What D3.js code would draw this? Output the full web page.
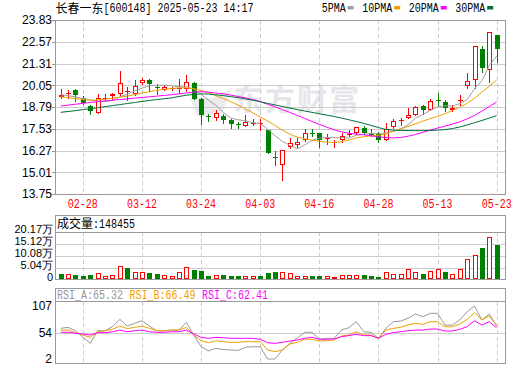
<!DOCTYPE html>
<html><head><meta charset="utf-8">
<script src="https://cdn.jsdelivr.net/npm/d3@7"></script>
<style>body{margin:0;background:#fff}svg{display:block}</style>
</head><body><svg id="c" width="520" height="365"></svg>
<script>
// ---------------- data ----------------
const stockName = "长春一东", stockCode = "600148", stamp = "2025-05-23 14:17";
const dates = ["02-25","02-26","02-27","02-28","03-03","03-04","03-05","03-06","03-07","03-10","03-11","03-12","03-13","03-14","03-17","03-18","03-19","03-20","03-21","03-24","03-25","03-26","03-27","03-28","03-31","04-01","04-02","04-03","04-07","04-08","04-09","04-10","04-11","04-14","04-15","04-16","04-17","04-18","04-21","04-22","04-23","04-24","04-25","04-28","04-29","04-30","05-06","05-07","05-08","05-09","05-12","05-13","05-14","05-15","05-16","05-19","05-20","05-21","05-22","05-23"];
const open  = [19.35,19.60,19.76,19.34,18.82,18.47,19.26,19.43,19.57,19.70,19.57,20.17,20.34,19.94,19.80,19.84,19.84,19.86,20.17,19.24,18.25,18.18,18.28,18.03,17.79,17.70,17.82,17.82,17.45,15.92,15.45,16.49,16.60,16.89,17.30,17.26,16.96,16.70,16.87,17.19,17.28,17.58,17.24,17.20,16.85,17.62,18.00,18.18,18.30,18.82,18.64,19.18,19.07,18.64,19.16,20.03,20.38,22.15,20.96,22.96];
const high  = [19.81,19.76,19.82,19.43,18.89,19.53,19.53,19.63,20.88,19.92,20.34,20.49,20.40,20.11,20.05,19.97,20.44,20.63,20.26,19.34,18.41,18.60,18.37,18.12,17.93,18.32,18.08,18.08,17.47,16.22,16.29,17.02,17.02,17.51,17.51,17.26,17.22,16.87,17.26,17.47,17.64,17.68,17.53,17.33,17.87,18.10,18.14,18.72,18.84,18.88,19.26,19.61,19.22,18.91,19.49,20.76,22.30,22.34,23.11,22.96];
const low   = [19.29,19.34,19.14,18.95,18.37,18.47,19.14,19.24,19.43,19.18,19.49,20.11,19.72,19.53,19.76,19.76,19.63,19.72,19.24,17.83,17.99,18.05,17.85,17.60,17.55,17.70,17.76,17.47,16.10,15.43,14.58,16.41,16.45,16.83,17.12,16.45,16.64,16.45,16.74,17.12,17.22,17.20,17.10,16.79,16.85,17.56,17.76,18.18,18.30,18.39,18.59,18.91,18.53,18.53,18.91,19.90,19.90,20.84,20.26,21.38];
const close = [19.48,19.63,19.49,19.01,18.57,19.34,19.30,19.57,20.20,19.74,20.01,20.34,20.11,19.90,19.92,19.88,19.88,20.26,19.24,18.32,18.22,18.43,18.05,17.80,17.76,17.93,17.86,17.86,16.12,15.90,16.29,16.68,16.79,17.26,17.27,16.89,16.99,16.77,17.12,17.22,17.64,17.29,17.20,16.89,17.53,17.97,18.06,18.34,18.78,18.64,19.12,19.14,18.72,18.72,19.22,20.28,22.30,21.03,23.11,22.15];
// volume in 万股 (10k shares)
const volume = [2.35,2.2,1.9,1.6,1.9,2.6,1.5,1.9,5.8,5.0,3.3,3.1,2.8,2.45,1.9,1.5,3.3,5.2,4.05,3.6,1.6,1.9,1.9,1.6,1.6,1.5,1.5,1.5,2.6,3.1,3.1,2.6,1.5,1.5,1.5,1.5,1.5,1.05,1.9,1.9,1.9,1.9,1.5,1.05,3.1,2.2,2.2,4.35,3.1,2.35,3.6,4.35,3.1,2.2,4.35,8.75,10.3,13.6,18.0,14.8455];
const volumeUp = [0,1,0,0,0,1,1,1,1,0,1,1,0,0,1,1,1,1,0,0,0,1,0,0,0,1,1,0,0,0,1,1,1,1,0,0,1,1,1,1,1,0,0,0,1,1,1,1,1,0,1,1,0,1,1,1,1,0,1,0];
const lastVolume = 148455;
const ma5  = [19.50,19.45,19.38,19.28,19.20,19.12,19.10,19.16,19.38,19.52,19.72,19.88,20.02,20.05,20.05,20.02,19.96,19.95,19.84,19.52,19.18,18.89,18.47,18.16,18.05,17.99,17.88,17.84,17.50,17.13,16.80,16.57,16.36,16.58,16.86,16.98,17.02,17.02,17.01,17.00,17.15,17.21,17.27,17.25,17.29,17.38,17.53,17.76,18.14,18.36,18.59,18.80,18.86,18.85,18.98,19.22,19.85,20.31,21.19,21.74];
const ma10 = [19.38,19.33,19.28,19.22,19.19,19.20,19.24,19.30,19.36,19.42,19.50,19.60,19.68,19.76,19.82,19.86,19.90,19.90,19.85,19.75,19.62,19.45,19.28,19.10,18.90,18.68,18.45,18.22,17.98,17.72,17.45,17.22,17.05,16.95,16.87,16.80,16.75,16.73,16.78,16.88,17.00,17.07,17.12,17.15,17.22,17.38,17.52,17.66,17.82,17.97,18.12,18.25,18.40,18.58,18.78,19.00,19.30,19.65,20.00,20.35];
const ma20 = [18.85,18.90,18.95,19.00,19.05,19.10,19.14,19.18,19.22,19.26,19.30,19.34,19.38,19.42,19.46,19.50,19.55,19.60,19.65,19.68,19.65,19.60,19.55,19.48,19.40,19.32,19.22,19.10,18.95,18.80,18.64,18.48,18.30,18.13,17.95,17.78,17.62,17.47,17.35,17.27,17.22,17.18,17.12,17.06,17.02,17.00,17.02,17.10,17.20,17.32,17.45,17.57,17.68,17.80,17.93,18.10,18.30,18.55,18.82,19.08];
const ma30 = [18.48,18.53,18.58,18.64,18.69,18.75,18.81,18.87,18.93,18.99,19.05,19.11,19.17,19.22,19.27,19.32,19.40,19.47,19.52,19.55,19.54,19.50,19.45,19.39,19.33,19.26,19.18,19.09,19.00,18.91,18.82,18.73,18.64,18.56,18.48,18.40,18.32,18.24,18.15,18.05,17.95,17.84,17.72,17.60,17.49,17.45,17.43,17.42,17.42,17.42,17.43,17.45,17.48,17.54,17.63,17.75,17.88,18.01,18.15,18.29];
const rsiA = [61.6,63.3,57.5,46.3,36.1,57.5,57.5,64.4,77.0,65.5,70.1,74.6,65.5,57.5,57.5,58.6,58.6,71.8,50.2,30.3,23.0,27.5,25.5,24.7,24.0,29.3,30.3,30.3,9.3,9.3,24.7,36.1,44.6,54.8,54.8,42.9,44.6,44.6,58.7,62.7,72.9,55.8,54.8,44.6,61.6,72.9,74.0,78.7,86.0,81.4,87.2,87.2,67.2,67.2,75.8,89.9,99.6,75.8,86.0,65.32];
const rsiB = [58.7,58.7,54.2,50.2,46.3,55.8,57.5,59.9,65.5,61.0,63.3,65.5,61.6,57.5,57.5,58.6,58.6,63.3,50.2,40.5,37.1,40.5,38.8,37.7,37.7,38.8,38.8,38.8,24.7,21.8,24.7,34.9,37.7,42.9,42.9,40.0,40.5,41.7,48.5,50.2,55.8,50.2,50.2,44.6,58.7,61.6,63.3,67.2,70.1,68.4,72.9,72.9,64.4,64.4,68.9,77.0,88.2,75.8,82.6,66.49];
const rsiC = [54.8,54.8,53.1,52.0,50.2,54.2,54.2,55.8,58.6,55.8,57.5,58.6,55.8,54.8,54.8,55.8,55.8,58.6,52.0,46.3,44.6,46.3,45.7,44.6,44.6,44.6,44.6,42.9,37.1,36.0,37.7,40.0,41.7,44.6,46.3,42.9,42.9,43.5,47.4,49.1,51.4,49.1,49.1,44.6,51.4,54.2,55.8,57.5,58.6,58.6,60.4,60.4,57.0,57.0,59.9,64.4,74.6,67.2,72.9,62.41];
const priceTicks = [23.83,22.57,21.31,20.05,18.79,17.53,16.27,15.01,13.75];
const volumeTicks = [20.17,15.12,10.08,5.04,0];
const rsiTicks = [107,54,2];
const dateTicks = ["02-28","03-12","03-24","04-03","04-16","04-28","05-13","05-23"];
const maNames = ["5PMA","10PMA","20PMA","30PMA"];
const rsiNames = ["RSI_A","RSI_B","RSI_C"];

// ---------------- style ----------------
const RED = "#ff0000", GREEN = "#008000", FRAME = "#999999", GRID = "#cccccc";
const MA_COLORS = ["#a0a0a0", "#f0a000", "#ff00ff", "#00703c"];
const RSI_COLORS = ["#999999", "#f0a000", "#ff00ff"];
const MONO = '"Liberation Mono", "DejaVu Sans Mono", monospace';
const SANS = '"Liberation Sans", Arial, sans-serif';
const CJK = '"Noto Sans CJK SC", sans-serif';
const L = 55, R = 505;

const svg = d3.select("#c");
const x = d3.scalePoint().domain(dates).range([60.7, 496.7]);
const yP = d3.scaleLinear().domain([13.75, 23.83]).range([194, 20]);
const yV = d3.scaleLinear().domain([0, 20.17]).range([279.5, 232.3]);
const yR = d3.scaleLinear().domain([2, 107]).range([363.3, 301.7]);
const px = v => Math.round(v) + 0.5;

function mono(g, xx, yy, s, fill, anchor) {
  return g.append("text").attr("x", xx).attr("y", yy).attr("fill", fill)
    .attr("font-family", MONO).attr("font-size", 12)
    .attr("text-anchor", anchor || "start")
    .attr("textLength", s.length * 6).attr("lengthAdjust", "spacingAndGlyphs").text(s);
}
function cjk(g, xx, yy, s, fill) {
  return g.append("text").attr("x", xx).attr("y", yy).attr("fill", fill)
    .attr("font-family", CJK).attr("font-size", 12).text(s);
}

// ---------------- header ----------------
const head = svg.append("g");
cjk(head, 55.5, 13, stockName, "#000");
mono(head, 55.5 + stockName.length * 12, 12, `[${stockCode}] ${stamp}`, "#000");
let lx = 321.7;
maNames.forEach((n, k) => {
  mono(head, lx, 12, n, "#000");
  const w = n.length * 6;
  head.append("rect").attr("x", lx + w + 2).attr("y", 6).attr("width", 6).attr("height", 3.5).attr("fill", MA_COLORS[k]);
  lx += w + 8 + 8.5;
});

// ---------------- watermark ----------------
const wm = svg.append("g").attr("fill", "#e6e6ea");
wm.append("path").attr("d", "M190,98 L212,98 L232,88 L222,113 L198,117 Z").attr("opacity", 0.8);
wm.append("text").attr("x", 233).attr("y", 110).attr("font-family", CJK).attr("font-weight", "bold")
  .attr("font-size", 30).attr("letter-spacing", 2).text("东方财富");

// ---------------- grid & frames ----------------
const grid = svg.append("g").attr("shape-rendering", "crispEdges");
priceTicks.slice(1, -1).forEach(p => grid.append("line").attr("x1", L).attr("x2", R).attr("y1", px(yP(p))).attr("y2", px(yP(p))).attr("stroke", GRID));
volumeTicks.slice(1, -1).forEach(v => grid.append("line").attr("x1", L).attr("x2", R).attr("y1", px(yV(v))).attr("y2", px(yV(v))).attr("stroke", GRID));
grid.append("line").attr("x1", L).attr("x2", R).attr("y1", px(yR(54))).attr("y2", px(yR(54))).attr("stroke", GRID);
dateTicks.forEach(d => {
  const xx = px(x(d));
  [[20, 194], [232, 279], [302, 363]].forEach(([a, b]) =>
    grid.append("line").attr("x1", xx).attr("x2", xx).attr("y1", a).attr("y2", b)
      .attr("stroke", GRID).attr("stroke-dasharray", "4,3"));
});

// ---------------- candles ----------------
const cg = svg.append("g").attr("shape-rendering", "crispEdges");
dates.forEach((d, i) => {
  const c = Math.round(x(d));
  const up = close[i] > open[i];
  const col = up ? RED : GREEN;
  const yo = yP(open[i]), yc = yP(close[i]);
  const top = Math.round(Math.min(yo, yc)), bot = Math.round(Math.max(yo, yc));
  cg.append("line").attr("x1", c + 0.5).attr("x2", c + 0.5)
    .attr("y1", Math.round(yP(high[i]))).attr("y2", Math.round(yP(low[i])) + 1).attr("stroke", col);
  if (bot - top < 2) {
    cg.append("line").attr("x1", c - 2).attr("x2", c + 3).attr("y1", top + 0.5).attr("y2", top + 0.5).attr("stroke", col);
  } else if (up) {
    cg.append("rect").attr("x", c - 1.5).attr("y", top + 0.5).attr("width", 4).attr("height", bot - top - 1)
      .attr("fill", "#fff").attr("stroke", col);
  } else {
    cg.append("rect").attr("x", c - 2).attr("y", top).attr("width", 5).attr("height", bot - top).attr("fill", col);
  }
});

// ---------------- moving averages ----------------
svg.append("clipPath").attr("id", "mclip").append("rect").attr("x", L).attr("y", 20).attr("width", R - L).attr("height", 174);
const mg = svg.append("g").attr("clip-path", "url(#mclip)");
[ma5, ma10, ma20, ma30].forEach((arr, k) => {
  mg.append("path").datum(arr)
    .attr("d", d3.line().x((v, i) => x(dates[i])).y(v => yP(v)))
    .attr("fill", "none").attr("stroke", MA_COLORS[k]).attr("stroke-width", 1);
});

// ---------------- volume ----------------
const vg = svg.append("g").attr("shape-rendering", "crispEdges");
dates.forEach((d, i) => {
  const c = Math.round(x(d));
  const t = Math.round(yV(volume[i])), b = 279;
  if (volumeUp[i]) {
    vg.append("rect").attr("x", c - 1.5).attr("y", t + 0.5).attr("width", 4).attr("height", Math.max(b - t - 1, 0))
      .attr("fill", "#fff").attr("stroke", RED);
  } else {
    vg.append("rect").attr("x", c - 2).attr("y", t).attr("width", 5).attr("height", b - t).attr("fill", GREEN);
  }
});

// ---------------- RSI ----------------
[rsiA, rsiB, rsiC].forEach((arr, k) => {
  svg.append("path").datum(arr)
    .attr("d", d3.line().x((v, i) => x(dates[i])).y(v => yR(v)))
    .attr("fill", "none").attr("stroke", RSI_COLORS[k]).attr("stroke-width", 1);
});

// ---------------- frames ----------------
const fr = svg.append("g").attr("shape-rendering", "crispEdges").attr("fill", "none").attr("stroke", FRAME);
fr.append("rect").attr("x", L + 0.5).attr("y", 20.5).attr("width", R - L).attr("height", 174);
fr.append("rect").attr("x", L + 0.5).attr("y", 215.5).attr("width", R - L).attr("height", 64);
fr.append("line").attr("x1", L).attr("x2", R).attr("y1", 232.5).attr("y2", 232.5);
fr.append("rect").attr("x", L + 0.5).attr("y", 288.5).attr("width", R - L).attr("height", 75);
fr.append("line").attr("x1", L).attr("x2", R).attr("y1", 301.5).attr("y2", 301.5);

// ---------------- axes labels ----------------
const ax = svg.append("g");
priceTicks.forEach(p => {
  ax.append("text").attr("x", 52).attr("y", yP(p) + 4.3).attr("text-anchor", "end")
    .attr("font-family", SANS).attr("font-size", 12).attr("fill", "#000").text(p.toFixed(2));
  ax.append("line").attr("x1", 52).attr("x2", 55).attr("y1", px(yP(p))).attr("y2", px(yP(p))).attr("stroke", FRAME).attr("shape-rendering", "crispEdges");
});
volumeTicks.forEach(v => {
  const t = ax.append("text").attr("x", 53).attr("y", yV(v) + 1).attr("text-anchor", "end")
    .attr("font-family", SANS).attr("font-size", 11).attr("fill", "#000");
  t.append("tspan").text(v === 0 ? "0" : v.toFixed(2));
  if (v !== 0) t.append("tspan").attr("font-size", 10.5).text("万");
});
rsiTicks.forEach((v, k) => {
  const off = k === 0 ? 8.5 : (k === rsiTicks.length - 1 ? 0 : 4.5);
  ax.append("text").attr("x", 52).attr("y", yR(v) + off).attr("text-anchor", "end")
    .attr("font-family", SANS).attr("font-size", 12).attr("fill", "#000").text(v);
});
dateTicks.forEach(d => mono(ax, x(d), 208, d, RED, "middle"));

// panel titles
cjk(ax, 57, 228, "成交量", "#000");
mono(ax, 57 + 36, 227.5, ":" + lastVolume, "#000");
[rsiA, rsiB, rsiC].forEach((arr, k) => {
  mono(ax, 57 + k * 72.5, 298.5, `${rsiNames[k]}:${arr[arr.length - 1].toFixed(2)}`, RSI_COLORS[k]);
});
</script></body></html>
